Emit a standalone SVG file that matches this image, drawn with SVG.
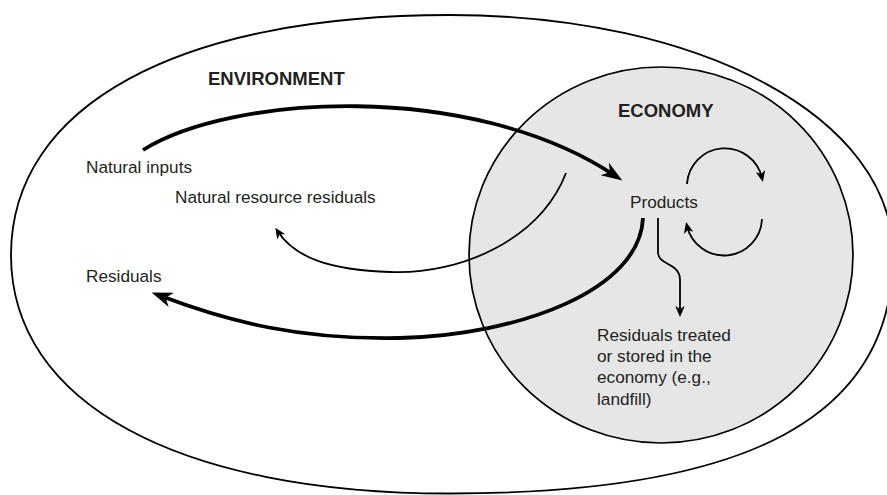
<svg xmlns="http://www.w3.org/2000/svg" width="887" height="495" viewBox="0 0 887 495">
<style>
.t{font-family:"Liberation Sans",Arial,sans-serif;font-size:17.2px;fill:#231f20}
.h{font-family:"Liberation Sans",Arial,sans-serif;font-size:18.5px;font-weight:bold;fill:#231f20}
.thick{fill:none;stroke:#000;stroke-width:3.8}
.thin{fill:none;stroke:#000;stroke-width:1.8}
</style>
<defs>
<marker id="big" viewBox="-22 -9 24 18" refX="-10" refY="0" markerWidth="24" markerHeight="18" markerUnits="userSpaceOnUse" orient="auto">
<path d="M0,0 L-21,-7.5 L-15,0 L-21,7.5 Z" fill="#000"/>
</marker>
<marker id="small" viewBox="-13 -6 14 12" refX="-4" refY="0" markerWidth="14" markerHeight="12" markerUnits="userSpaceOnUse" orient="auto">
<path d="M0,0 L-11,-4.8 L-8,0 L-11,4.8 Z" fill="#000"/>
</marker>
</defs>
<rect width="887" height="495" fill="#fff"/>
<g id="environment">
<path d="M893,255 C893,417 749,493.5 450,493.5 C178,493.5 11,403 11,255 C11,106 178,15 450,15 C701,15 893,118 893,255 Z" fill="none" stroke="#000" stroke-width="1.8"/>
<text class="h" x="208" y="85">ENVIRONMENT</text>
</g>
<g id="economy">
<ellipse cx="661" cy="255" rx="192" ry="188" fill="#e6e6e6" stroke="#000" stroke-width="1.7"/>
<text class="h" x="618" y="117">ECONOMY</text>
</g>
<g id="natural-inputs"><text class="t" x="86" y="173">Natural inputs</text></g>
<g id="natural-resource-residuals"><text class="t" x="175" y="203">Natural resource residuals</text></g>
<g id="residuals"><text class="t" x="86" y="282">Residuals</text></g>
<g id="products"><text class="t" x="630" y="208">Products</text></g>
<g id="residuals-treated">
<text class="t" x="597" y="341">Residuals treated</text>
<text class="t" x="597" y="362">or stored in the</text>
<text class="t" x="597" y="383">economy (e.g.,</text>
<text class="t" x="597" y="405">landfill)</text>
</g>
<g id="connectors">
<path class="thick" d="M143,150 C230,95 470,80 614,175" marker-end="url(#big)"/>
<path class="thick" d="M643,218 C640,290 520,335 400,338 C300,340 230,322 161,296" marker-end="url(#big)"/>
<path class="thin" d="M566,173 C540,240 460,275 390,272 C330,270 295,258 277.5,231" marker-end="url(#small)"/>
<path class="thin" d="M658,218 L658,252 C658,266 680,262 680,280 L680,313" marker-end="url(#small)"/>
<path class="thin" d="M687,184 A38,38 0 0 1 762,178" marker-end="url(#small)"/>
<path class="thin" d="M762,219 A38,38 0 0 1 687,226" marker-end="url(#small)"/>
</g>
</svg>
